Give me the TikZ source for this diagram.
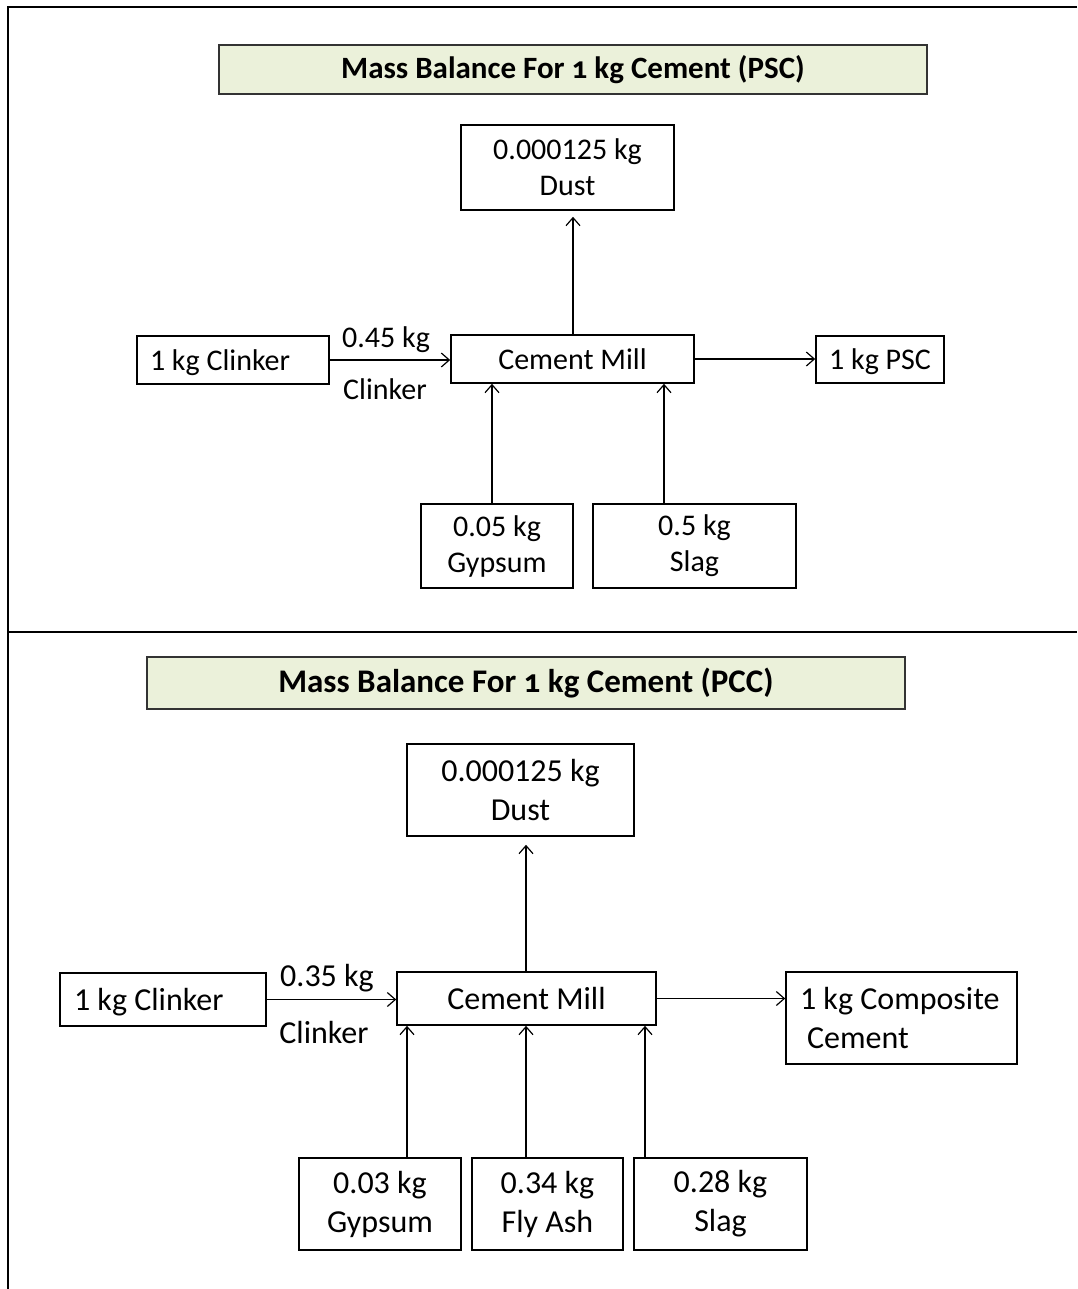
\documentclass[tikz,border=0pt]{standalone}
\usepackage{fontspec}
\setmainfont{Carlito}
\newfontfamily\titlefont[Numbers=OldStyle]{Carlito}
\usetikzlibrary{arrows.meta}
\definecolor{titlegreen}{RGB}{235,241,218}
\tikzset{
  box/.style={draw=black, line width=0.8pt, inner sep=0pt, align=center, font=\fontsize{15}{18}\selectfont},
  boxb/.style={draw=black, line width=0.8pt, inner sep=0pt, align=center, font=\fontsize{16}{19.5}\selectfont},
  oneline/.style={text depth=0pt},
  titlebox/.style={draw=black!80, line width=0.7pt, fill=titlegreen, inner sep=0pt},
  arr/.style={line width=0.6pt, -{Straight Barb[length=4pt,width=7pt]}},
  lbl/.style={inner sep=0pt, font=\fontsize{15}{18}\selectfont},
  lblb/.style={inner sep=0pt, font=\fontsize{16}{19.5}\selectfont},
  frame/.style={line width=1pt}
}
\begin{document}
\begin{tikzpicture}[x=0.5pt, y=-0.5pt]
\useasboundingbox (0,0) rectangle (1077,1289);
% frame
\coordinate (ftl) at (8,7);
\coordinate (ftr) at (1077,7);
\coordinate (fbl) at (8,1289);
\coordinate (fml) at (8,632);
\coordinate (fmr) at (1077,632);
\draw[frame] (ftr) -- (ftl) -- (fbl);
\draw[frame] (fml) -- (fmr);

% ---------- top panel ----------
\node[titlebox, minimum width=354pt, minimum height=24.5pt] (title1) at (573,69.5)
  {\titlefont\bfseries\fontsize{15.5}{18}\selectfont Mass Balance For 1 kg Cement (PSC)};
\node[box, minimum width=106.5pt, minimum height=42.5pt] (dust1) at (567.5,167.5) {0.000125 kg\\Dust};
\node[box, oneline, minimum width=96pt, minimum height=24pt] (clk1) at (233,360) {\makebox[83pt][l]{1 kg Clinker}};
\node[box, oneline, minimum width=121.5pt, minimum height=24pt] (mill1) at (572.5,359) {Cement Mill};
\node[box, oneline, minimum width=64pt, minimum height=23.5pt] (psc1) at (880,359.5) {1 kg PSC};
\node[box, minimum width=76pt, minimum height=42pt] (gyp1) at (497,546) {0.05 kg\\Gypsum};
\node[box, minimum width=101.5pt, minimum height=42pt] (slag1) at (694.5,546) {0.5 kg\\Slag};

\node[lbl] (l1a) at (386,340) {0.45 kg};
\node[lbl] (l1b) at (385,389) {Clinker};

\draw[arr] (clk1.east) -- (clk1.east -| mill1.west);
\draw[arr] (mill1.east) -- (mill1.east -| psc1.west);
\draw[arr] (mill1.north -| 573,0) -- ([yshift=-3pt]dust1.south -| 573,0);
\draw[arr] (gyp1.north -| 492,0) -- (mill1.south -| 492,0);
\draw[arr] (slag1.north -| 664,0) -- (mill1.south -| 664,0);

% ---------- bottom panel ----------
\node[titlebox, minimum width=379pt, minimum height=26pt] (title2) at (526,683)
  {\titlefont\bfseries\fontsize{16.5}{19}\selectfont Mass Balance For 1 kg Cement (PCC)};
\node[boxb, minimum width=113.5pt, minimum height=46pt] (dust2) at (520.5,790) {0.000125 kg\\Dust};
\node[boxb, oneline, minimum width=103pt, minimum height=26.5pt] (clk2) at (163,999.5) {\makebox[89pt][l]{1 kg Clinker}};
\node[boxb, oneline, minimum width=129.5pt, minimum height=26.5pt] (mill2) at (526.5,998.5) {Cement Mill};
\node[boxb, minimum width=115.5pt, minimum height=46pt] (comp2) at (901.5,1018)
  {\makebox[101.5pt][l]{1 kg Composite}\\\makebox[101.5pt][l]{\hspace*{3.5pt}Cement}};
\node[boxb, minimum width=81pt, minimum height=46pt] (gyp2) at (380,1204) {0.03 kg\\Gypsum};
\node[boxb, minimum width=75.5pt, minimum height=46pt] (fly2) at (547.5,1204) {0.34 kg\\Fly Ash};
\node[boxb, minimum width=86.5pt, minimum height=46pt] (slag2) at (720.5,1204) {0.28 kg\\Slag};

\node[lblb] (l2a) at (327,978) {0.35 kg};
\node[lblb] (l2b) at (324,1032) {Clinker};

\draw[arr] (clk2.east) -- (clk2.east -| mill2.west);
\draw[arr] (mill2.east) -- (mill2.east -| comp2.west);
\draw[arr] (mill2.north -| 526,0) -- ([yshift=-4pt]dust2.south -| 526,0);
\draw[arr] (gyp2.north -| 407,0) -- (mill2.south -| 407,0);
\draw[arr] (fly2.north -| 526,0) -- (mill2.south -| 526,0);
\draw[arr] (slag2.north -| 645,0) -- (mill2.south -| 645,0);
\end{tikzpicture}
\end{document}
